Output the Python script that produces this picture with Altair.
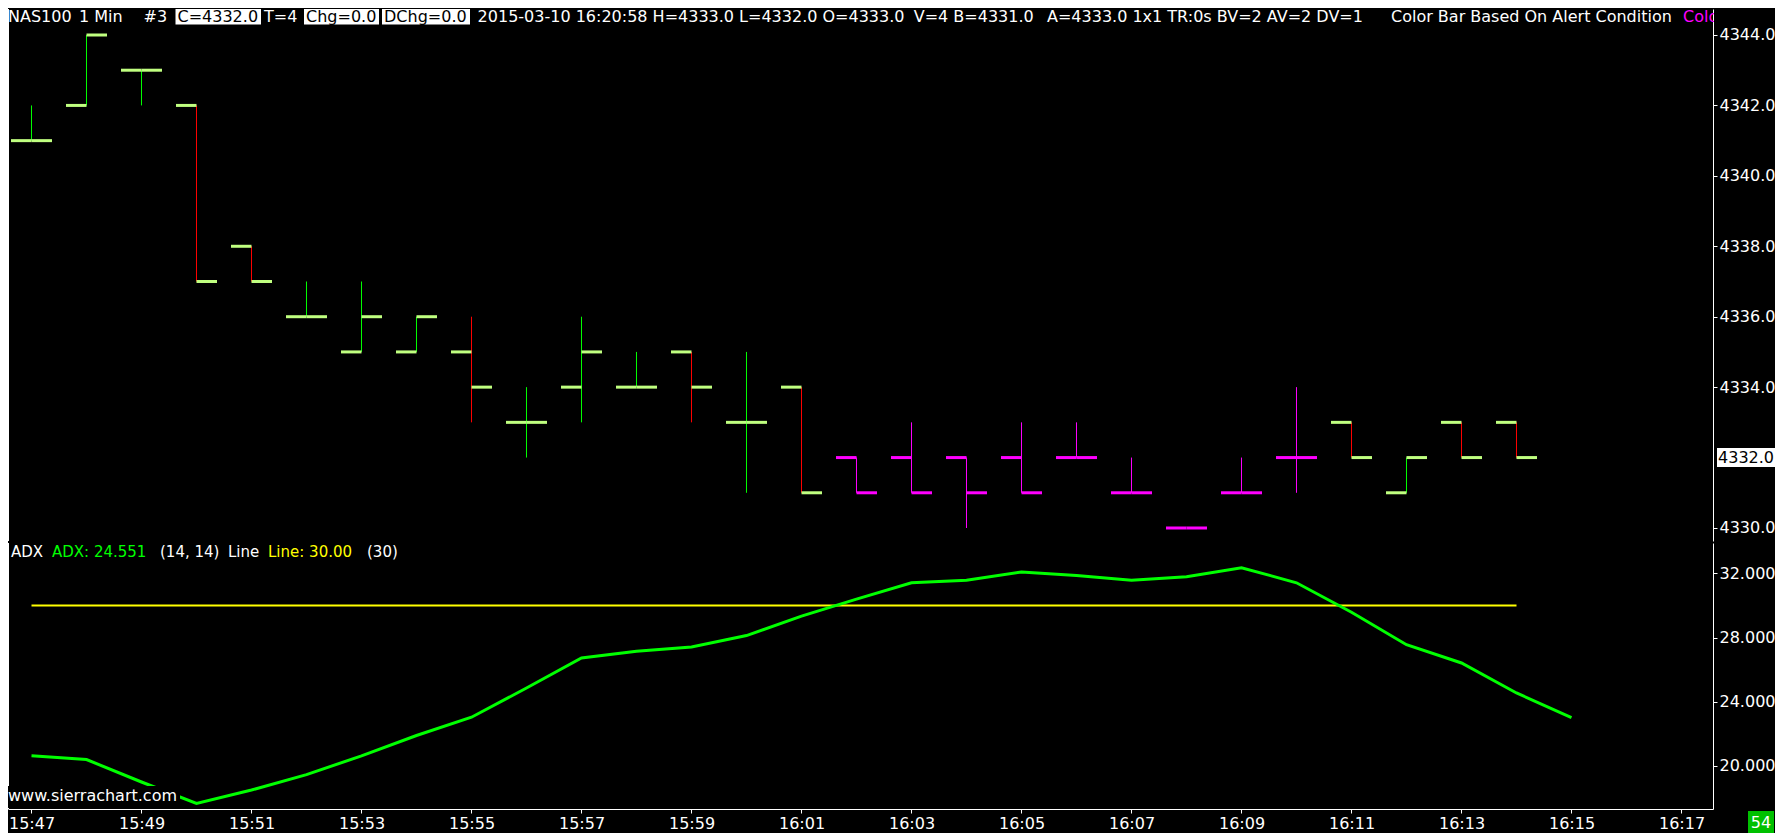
import altair as alt
import pandas as pd

# ---------------- data ----------------
DAY = "2015-03-10"
BAR_TIMES = ["15:47", "15:48", "15:49", "15:50", "15:51", "15:52", "15:53", "15:54",
             "15:55", "15:56", "15:57", "15:58", "15:59", "16:00", "16:01", "16:02",
             "16:03", "16:04", "16:05", "16:06", "16:07", "16:08", "16:09", "16:10",
             "16:11", "16:12", "16:13", "16:14"]
OPEN = [4341, 4342, 4343, 4342, 4338, 4336, 4335, 4335, 4335, 4333, 4334, 4334, 4335, 4333,
        4334, 4332, 4332, 4332, 4332, 4332, 4331, 4330, 4331, 4332, 4333, 4331, 4333, 4333]
HIGH = [4342, 4344, 4343, 4342, 4338, 4337, 4337, 4336, 4336, 4334, 4336, 4335, 4335, 4335,
        4334, 4332, 4333, 4332, 4333, 4333, 4332, 4330, 4332, 4334, 4333, 4332, 4333, 4333]
LOW = [4341, 4342, 4342, 4337, 4337, 4336, 4335, 4335, 4333, 4332, 4333, 4334, 4333, 4331,
       4331, 4331, 4331, 4330, 4331, 4332, 4331, 4330, 4331, 4331, 4332, 4331, 4332, 4332]
CLOSE = [4341, 4344, 4343, 4337, 4337, 4336, 4336, 4336, 4334, 4333, 4335, 4334, 4334, 4333,
         4331, 4331, 4331, 4331, 4331, 4332, 4331, 4330, 4331, 4332, 4332, 4332, 4332, 4332]
ALERT = [False] * 15 + [True] * 9 + [False] * 4

ADX_TIMES = BAR_TIMES + ["16:15"]
ADX = [20.63, 20.40, 19.00, 17.67, 18.50, 19.46, 20.63, 21.90, 23.04, 24.86, 26.73, 27.15,
       27.42, 28.13, 29.34, 30.40, 31.42, 31.58, 32.09, 31.88, 31.58, 31.79, 32.36, 31.42,
       29.58, 27.56, 26.42, 24.55, 23.02]
LINE_LEVEL = 30.0
LINE_START, LINE_END = "15:47", "16:14"

PRICE_TICKS = [4330.0, 4334.0, 4336.0, 4338.0, 4340.0, 4342.0, 4344.0]
LAST_PRICE = "4332.0"
ADX_TICKS = [20, 24, 28, 32]
TIME_TICKS = ["15:47", "15:49", "15:51", "15:53", "15:55", "15:57", "15:59", "16:01",
              "16:03", "16:05", "16:07", "16:09", "16:11", "16:13", "16:15", "16:17"]

HEADER = [
    ("NAS100", "white"), ("1 Min", "white"), ("#3", "white"),
    ("C=4332.0", "box"), ("T=4", "white"), ("Chg=0.0", "box"), ("DChg=0.0", "box"),
    ("2015-03-10 16:20:58 H=4333.0 L=4332.0 O=4333.0", "white"),
    ("V=4 B=4331.0", "white"),
    ("A=4333.0 1x1 TR:0s BV=2 AV=2 DV=1", "white"),
    ("Color Bar Based On Alert Condition", "white"),
    ("Colo", "#ff00ff"),
]
LEGEND = [("ADX", "white"), ("ADX: 24.551", "#00ff00"), ("(14, 14)", "white"),
          ("Line", "white"), ("Line: 30.00", "#ffff00"), ("(30)", "white")]
WATERMARK = "www.sierrachart.com"
BAR_COUNT_LABEL = "54"

# ---------------- layout ----------------
FONT = "DejaVu Sans"
W = 1705
H_PRICE = 532
H_ADX = 266
HEADER_X = [0, 71, 135.5, 169.5, 256, 298, 376, 469.6, 905.7, 1039, 1383, 1675]
BOX_SPANS = {3: (167.5, 253), 5: (296, 371), 6: (374, 462)}
LEGEND_X = [3, 44, 152, 220, 260, 359]


def dt(hm, s=0, ms=0):
    h, m = hm.split(":")
    return alt.DateTime(year=2015, month=3, date=10, hours=int(h), minutes=int(m),
                        seconds=s, milliseconds=ms)


def ts(hm):
    return f"{DAY}T{hm}:00"


X_DOMAIN = [dt("15:46", 34, 364), dt("16:17", 34, 364)]
x_scale = alt.Scale(domain=X_DOMAIN)

bars = pd.DataFrame({
    "t": [ts(t) for t in BAR_TIMES],
    "o": OPEN, "h": HIGH, "l": LOW, "c": CLOSE,
    "kind": ["alert" if a else ("down" if c < o else "up")
             for a, o, c in zip(ALERT, OPEN, CLOSE)],
})
adx_df = pd.DataFrame({"t": [ts(t) for t in ADX_TIMES], "adx": ADX})
level_df = pd.DataFrame({"t0": [ts(LINE_START)], "t1": [ts(LINE_END)], "adx": [LINE_LEVEL]})
one = pd.DataFrame({"k": [0]})


def txt(s, x, y, color="white", size=16, align="left", baseline="top"):
    return alt.Chart(pd.DataFrame({"s": [s]})).mark_text(
        align=align, baseline=baseline, color=color, fontSize=size, font=FONT
    ).encode(x=alt.value(x), y=alt.value(y), text="s:N")


def box(x1, x2, y1, y2, color):
    return alt.Chart(one).mark_rect(color=color).encode(
        x=alt.value(x1), x2=alt.value(x2), y=alt.value(y1), y2=alt.value(y2))


def border(h):
    return alt.Chart(one).mark_rule(color="white", strokeWidth=1).encode(
        x=alt.value(0.5), y=alt.value(0), y2=alt.value(h))


# ---------------- price pane ----------------
p_scale = alt.Scale(domain=[4329.6307, 4344.7383], nice=False, zero=False)
p_axis = alt.Axis(orient="right", values=PRICE_TICKS, format=".1f", title=None)
px_enc = alt.X("t:T", scale=x_scale, axis=None)

vert = alt.Chart(bars).mark_rule(strokeWidth=1).encode(
    x=px_enc,
    y=alt.Y("l:Q", scale=p_scale, axis=p_axis),
    y2="h:Q",
    color=alt.Color("kind:N", scale=alt.Scale(domain=["up", "down", "alert"],
                                              range=["#00ff00", "#ff0000", "#ff00ff"]),
                    legend=None),
)
tick_color = alt.Color("kind:N", scale=alt.Scale(domain=["up", "down", "alert"],
                                                 range=["#c0ff80", "#c0ff80", "#ff00ff"]),
                       legend=None)
open_tick = alt.Chart(bars).mark_rule(strokeWidth=3, xOffset=-20.5).encode(
    x=px_enc, x2="t:T", y=alt.Y("o:Q", scale=p_scale, axis=p_axis), color=tick_color)
close_tick = alt.Chart(bars).mark_rule(strokeWidth=3, x2Offset=20.5).encode(
    x=px_enc, x2="t:T", y=alt.Y("c:Q", scale=p_scale, axis=p_axis), color=tick_color)

price_layers = [border(H_PRICE), vert, open_tick, close_tick]
for i, ((s, col), x) in enumerate(zip(HEADER, HEADER_X)):
    if col == "box":
        x1, x2 = BOX_SPANS[i]
        price_layers.append(box(x1, x2, 0, 15.5, "white"))
        price_layers.append(txt(s, x, 0, "black"))
    else:
        price_layers.append(txt(s, x, 0, col))
price_layers.append(box(1706, 1767, 0, 17, "black"))
price_layers.append(box(1709, 1767, 439, 458, "white"))
price_layers.append(txt(LAST_PRICE, 1738, 449, "black", align="center", baseline="middle"))

price = alt.layer(*price_layers).properties(width=W, height=H_PRICE).resolve_scale(
    color="independent")

# ---------------- ADX pane ----------------
a_scale = alt.Scale(domain=[17.317, 33.90], nice=False, zero=False)
a_axis = alt.Axis(orient="right", values=ADX_TICKS, format=".3f", title=None)
x_axis = alt.Axis(format="%H:%M", values=[dt(t) for t in TIME_TICKS], labelFlush=False,
                  labelOverlap=False, title=None)
ax_enc = alt.X("t:T", scale=x_scale, axis=x_axis)

level = alt.Chart(level_df).mark_rule(color="#ffff00", strokeWidth=2).encode(
    x=alt.X("t0:T", scale=x_scale, axis=x_axis), x2="t1:T",
    y=alt.Y("adx:Q", scale=a_scale, axis=a_axis))
adx_line = alt.Chart(adx_df).mark_line(color="#00ff00", strokeWidth=3).encode(
    x=ax_enc, y=alt.Y("adx:Q", scale=a_scale, axis=a_axis))

adx_layers = [border(H_ADX), level, adx_line,
              box(0, 172, 243, 265, "black"),
              txt(WATERMARK, 0, 258, "white", size=16, baseline="alphabetic")]
for (s, col), x in zip(LEGEND, LEGEND_X):
    adx_layers.append(txt(s, x, 9, col, size=15, baseline="middle"))
adx_layers.append(box(1740, 1766, 268, 290, "#00c000"))
adx_layers.append(txt(BAR_COUNT_LABEL, 1753, 279.5, "white", align="center", baseline="middle"))

adx = alt.layer(*adx_layers).properties(width=W, height=H_ADX)

chart = alt.vconcat(price, adx, spacing=0).properties(padding=0).configure(
    background="black"
).configure_view(stroke=None).configure_axis(
    grid=False, domainColor="white", domainWidth=1, tickColor="white", tickSize=4,
    labelColor="white", labelFont=FONT, labelFontSize=16, labelPadding=2,
)

chart.save("out.html", embed_options={"renderer": "svg", "actions": False})
